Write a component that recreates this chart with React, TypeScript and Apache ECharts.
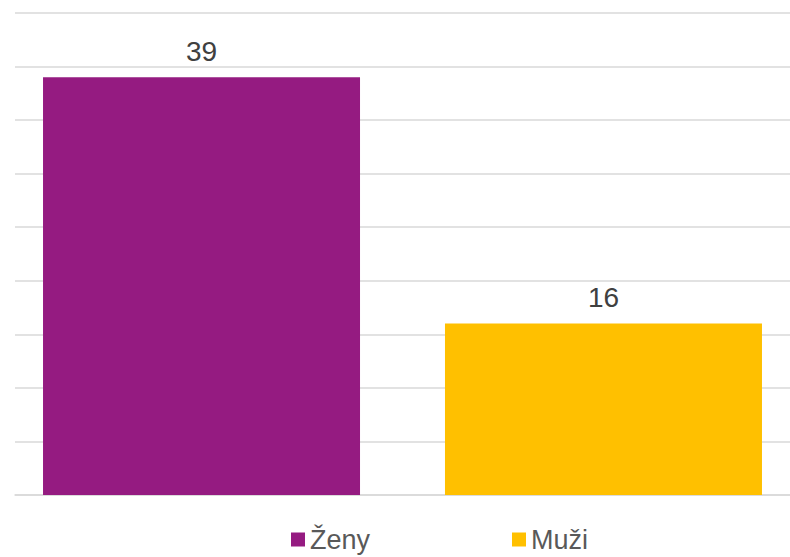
import React, { useEffect, useRef } from "react";
import * as echarts from "echarts";

const categories = [""];
const seriesNames = ["Ženy", "Muži"];
const zenyValues = [39];
const muziValues = [16];
const colors = ["#951B81", "#FFC000"];

export default function App() {
  const ref = useRef<HTMLDivElement>(null);
  useEffect(() => {
    if (!ref.current) return;
    const chart = echarts.init(ref.current, undefined, { renderer: "svg" });
    const font = "'Liberation Sans', Arial, sans-serif";
    chart.setOption({
      animation: false,
      grid: { left: 15, right: -6, top: 13, bottom: 62, containLabel: false },
      legend: {
        left: 286,
        top: 521,
        itemWidth: 14,
        itemHeight: 14,
        itemGap: 142,
        icon: "rect",
        textStyle: { fontFamily: font, fontSize: 27, color: "#595959" },
        data: seriesNames,
      },
      xAxis: {
        type: "category",
        data: categories,
        axisLine: { show: true, lineStyle: { color: "#d9d9d9", width: 1.5 } },
        axisTick: { show: false },
        axisLabel: { show: false },
      },
      yAxis: {
        type: "value",
        min: 0,
        max: 45,
        interval: 5,
        axisLabel: { show: false },
        axisLine: { show: false },
        axisTick: { show: false },
        splitLine: { lineStyle: { color: "#d9d9d9", width: 1.5 } },
      },
      series: [
        {
          name: seriesNames[0],
          type: "bar",
          data: zenyValues,
          barWidth: 317,
          barGap: "26.8%",
          itemStyle: { color: colors[0] },
          label: {
            show: true,
            position: "top",
            distance: 12,
            fontFamily: font,
            fontSize: 28,
            color: "#404040",
          },
        },
        {
          name: seriesNames[1],
          type: "bar",
          data: muziValues,
          barWidth: 317,
          barGap: "26.8%",
          itemStyle: { color: colors[1] },
          label: {
            show: true,
            position: "top",
            distance: 12,
            fontFamily: font,
            fontSize: 28,
            color: "#404040",
          },
        },
      ],
    });
    return () => chart.dispose();
  }, []);
  return (
    <div
      ref={ref}
      style={{ position: "fixed", left: 0, top: 0, width: 790, height: 557, background: "#fff" }}
    />
  );
}
